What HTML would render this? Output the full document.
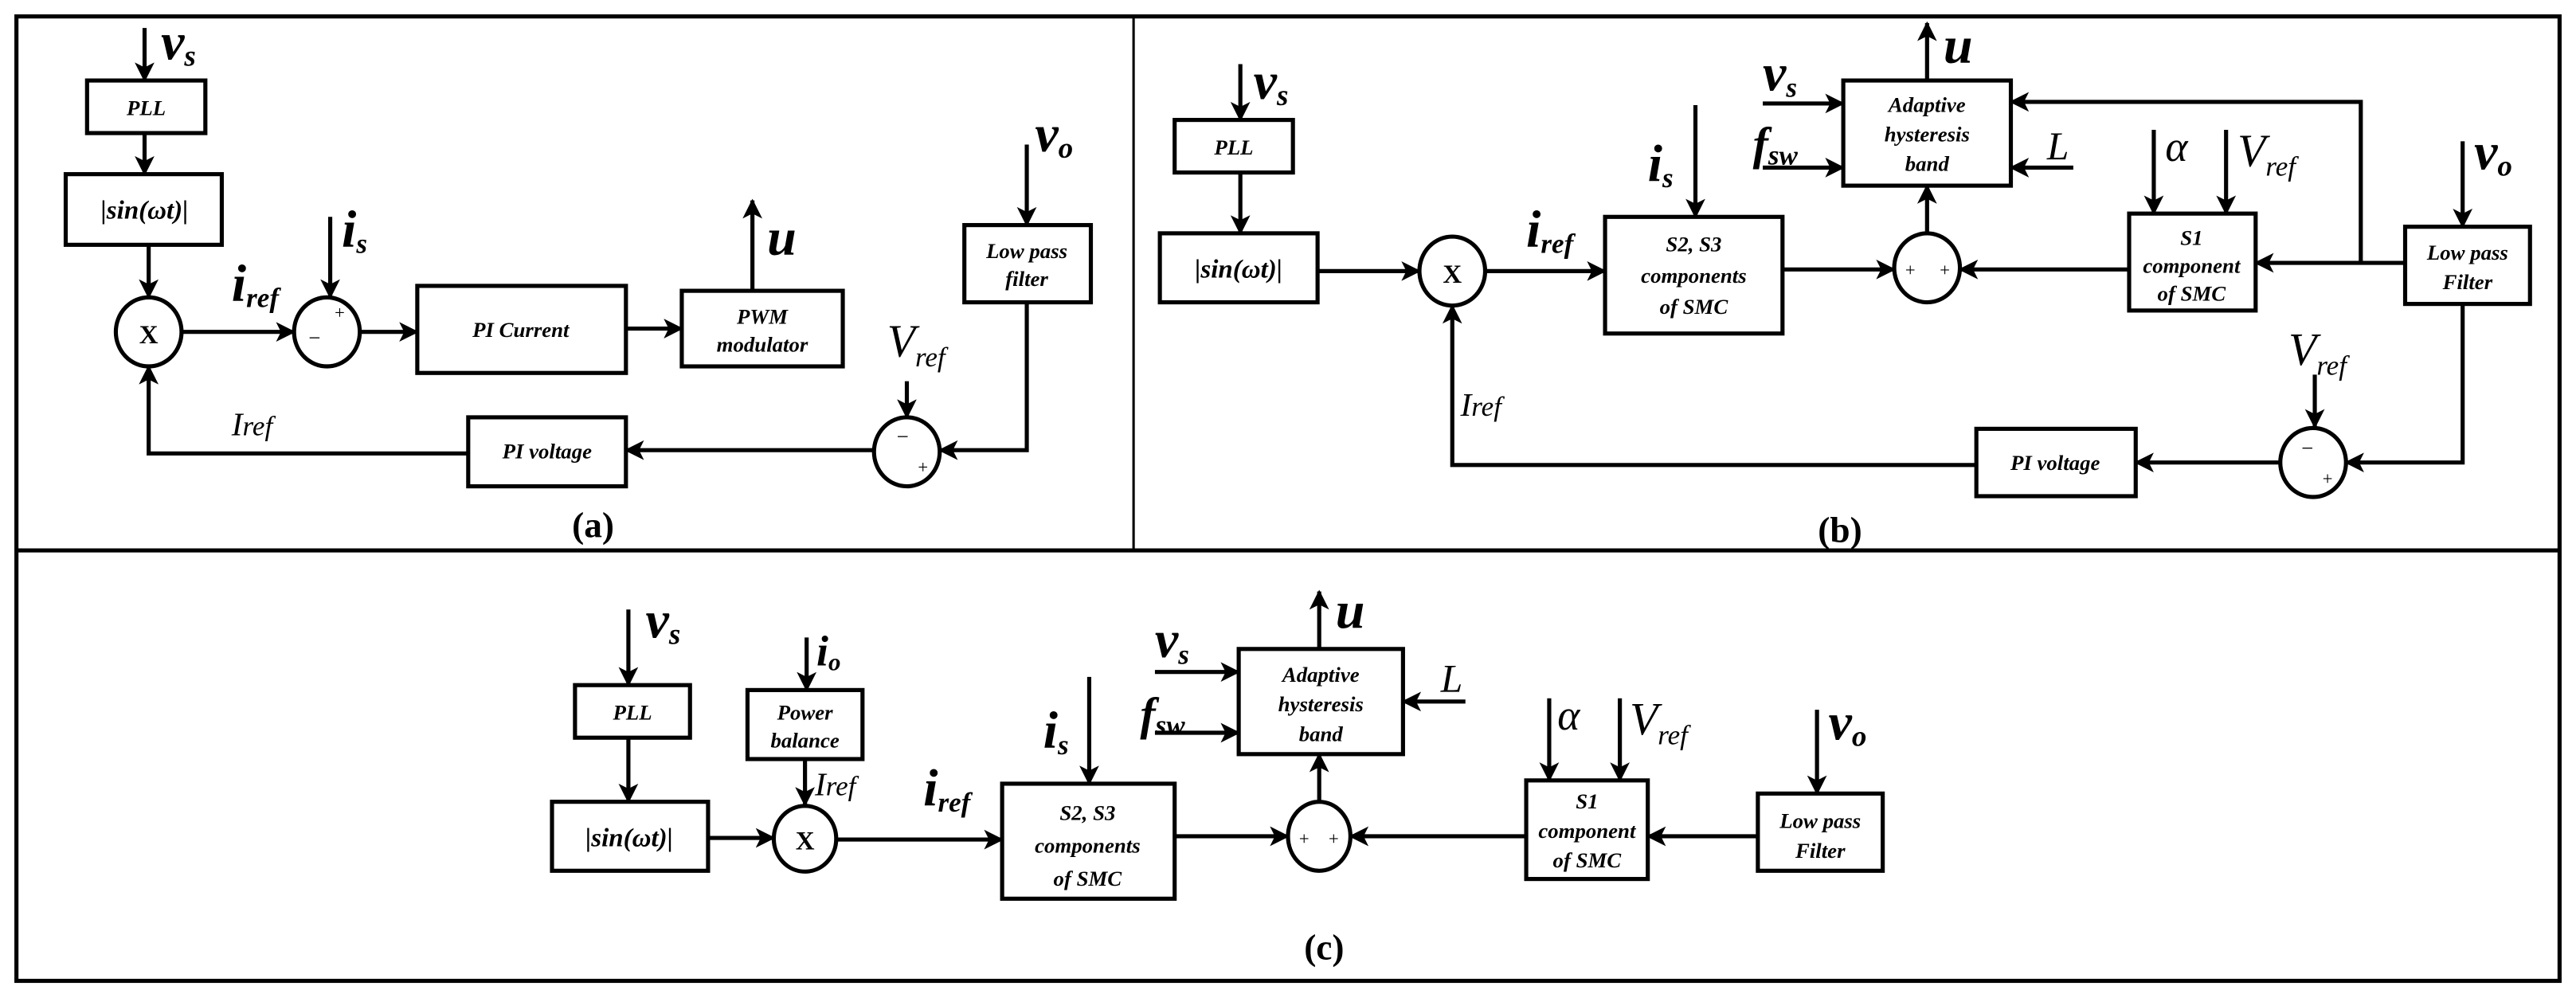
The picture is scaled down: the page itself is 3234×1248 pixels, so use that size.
<!DOCTYPE html>
<html><head><meta charset="utf-8"><style>
html,body{margin:0;padding:0;background:#fff}
svg{display:block}
text{font-family:"Liberation Serif",serif;font-style:italic;fill:#000}
.b{font-size:13px;font-weight:bold}
.m{font-size:32px;font-weight:bold}
.n{font-size:28px;font-weight:normal}
.s{font-size:16px;font-weight:bold}
.cap{font-size:22px;font-weight:bold;font-style:normal}
</style></head><body>
<svg width="3234" height="1248" viewBox="0 0 1568 605" preserveAspectRatio="none" xmlns="http://www.w3.org/2000/svg">
<defs>
<marker id="a" markerUnits="userSpaceOnUse" markerWidth="12" markerHeight="12" refX="11" refY="6" orient="auto"><path d="M0,0 L12,6 L0,12 L3,6 Z" fill="#000"/></marker>
</defs>
<g fill="none" stroke="#000" stroke-width="2">
<rect x="10" y="10" width="1548" height="587" stroke-width="2.5"/>
<line x1="10" y1="335" x2="1558" y2="335" stroke-width="2.5"/>
<line x1="690" y1="10" x2="690" y2="335" stroke-width="1.5"/>
</g>
<g fill="#fff" stroke="#000" stroke-width="2.5">
<rect x="53" y="49" width="72" height="32"/>
<rect x="40" y="106" width="95" height="43"/>
<ellipse cx="90.5" cy="202" rx="20" ry="21"/>
<ellipse cx="199" cy="202" rx="20" ry="21"/>
<rect x="254" y="174" width="127" height="53"/>
<rect x="415" y="177" width="98" height="46"/>
<rect x="587" y="137" width="77" height="47"/>
<ellipse cx="552" cy="275" rx="20" ry="21"/>
<rect x="285" y="254" width="96" height="42"/>
<rect x="715" y="73" width="72" height="32"/>
<rect x="706" y="142" width="96" height="42"/>
<ellipse cx="884" cy="165" rx="20" ry="21"/>
<rect x="977" y="132" width="108" height="71"/>
<ellipse cx="1173" cy="163" rx="20" ry="21"/>
<rect x="1122" y="49" width="102" height="64"/>
<rect x="1296" y="130" width="77" height="59"/>
<rect x="1464" y="138" width="76" height="47"/>
<ellipse cx="1408" cy="281.5" rx="20" ry="21"/>
<rect x="1203" y="261" width="97" height="41"/>
<rect x="350" y="417" width="70" height="32"/>
<rect x="336" y="488" width="95" height="42"/>
<ellipse cx="490" cy="510.5" rx="19" ry="20"/>
<rect x="455" y="420" width="70" height="42"/>
<rect x="610" y="477" width="105" height="70"/>
<ellipse cx="803" cy="509" rx="19" ry="21"/>
<rect x="754" y="395" width="100" height="64"/>
<rect x="929" y="475" width="74" height="60"/>
<rect x="1070" y="483" width="76" height="47"/>
</g>
<g fill="none" stroke="#000" stroke-width="2.5" marker-end="url(#a)">
<line x1="88" y1="17" x2="88" y2="49"/>
<line x1="88" y1="81" x2="88" y2="106"/>
<line x1="90.5" y1="149" x2="90.5" y2="181"/>
<line x1="110.5" y1="202" x2="179" y2="202"/>
<line x1="201" y1="132" x2="201" y2="181"/>
<line x1="219" y1="202" x2="254" y2="202"/>
<line x1="381" y1="200" x2="415" y2="200"/>
<line x1="458" y1="177" x2="458" y2="122"/>
<line x1="625" y1="88" x2="625" y2="137"/>
<polyline points="625,184 625,274 572,274"/>
<line x1="552" y1="232" x2="552" y2="254"/>
<line x1="532" y1="274" x2="381" y2="274"/>
<polyline points="285,276 90.5,276 90.5,223"/>
<line x1="755" y1="39" x2="755" y2="73"/>
<line x1="755" y1="105" x2="755" y2="142"/>
<line x1="802" y1="165" x2="864" y2="165"/>
<line x1="904" y1="165" x2="977" y2="165"/>
<line x1="1032" y1="64" x2="1032" y2="132"/>
<line x1="1085" y1="164" x2="1153" y2="164"/>
<line x1="1173" y1="142" x2="1173" y2="113"/>
<line x1="1173" y1="49" x2="1173" y2="14"/>
<line x1="1073" y1="63" x2="1122" y2="63"/>
<line x1="1073" y1="102" x2="1122" y2="102"/>
<line x1="1262" y1="102" x2="1224" y2="102"/>
<polyline points="1437,160 1437,62 1224,62"/>
<line x1="1311" y1="79" x2="1311" y2="130"/>
<line x1="1355" y1="79" x2="1355" y2="130"/>
<line x1="1464" y1="160" x2="1373" y2="160"/>
<line x1="1296" y1="164" x2="1193" y2="164"/>
<line x1="1499" y1="86" x2="1499" y2="138"/>
<polyline points="1499,185 1499,281.5 1428,281.5"/>
<line x1="1409" y1="228" x2="1409" y2="260"/>
<line x1="1388" y1="281.5" x2="1300" y2="281.5"/>
<polyline points="1203,283 884,283 884,186"/>
<line x1="382.5" y1="371" x2="382.5" y2="417"/>
<line x1="382.5" y1="449" x2="382.5" y2="488"/>
<line x1="431" y1="510" x2="471" y2="510"/>
<line x1="491" y1="388" x2="491" y2="420"/>
<line x1="490" y1="462" x2="490" y2="490"/>
<line x1="509" y1="511" x2="610" y2="511"/>
<line x1="663" y1="412" x2="663" y2="477"/>
<line x1="715" y1="509" x2="784" y2="509"/>
<line x1="803" y1="488" x2="803" y2="459"/>
<line x1="803" y1="395" x2="803" y2="360"/>
<line x1="703" y1="409" x2="754" y2="409"/>
<line x1="703" y1="446" x2="754" y2="446"/>
<line x1="892" y1="427" x2="854" y2="427"/>
<line x1="943" y1="425" x2="943" y2="475"/>
<line x1="986" y1="425" x2="986" y2="475"/>
<line x1="929" y1="509" x2="822" y2="509"/>
<line x1="1106" y1="432" x2="1106" y2="483"/>
<line x1="1070" y1="509" x2="1003" y2="509"/>
</g>
<g text-anchor="middle">
<text class="b" x="89" y="70">PLL</text>
<text class="s" x="88" y="133">|sin(ωt)|</text>
<text class="s" x="90.5" y="209" style="font-style:normal">X</text>
<text class="b" x="317" y="205">PI Current</text>
<text class="b" x="464" y="197">PWM</text>
<text class="b" x="464" y="214">modulator</text>
<text class="b" x="625" y="157">Low pass</text>
<text class="b" x="625" y="174">filter</text>
<text class="b" x="333" y="279">PI voltage</text>
<text class="cap" x="361" y="327">(a)</text>
<text class="b" x="751" y="94">PLL</text>
<text class="s" x="754" y="169">|sin(ωt)|</text>
<text class="s" x="884" y="172" style="font-style:normal">X</text>
<text class="b" x="1031" y="153">S2, S3</text>
<text class="b" x="1031" y="172">components</text>
<text class="b" x="1031" y="191">of SMC</text>
<text class="b" x="1173" y="68">Adaptive</text>
<text class="b" x="1173" y="86">hysteresis</text>
<text class="b" x="1173" y="104">band</text>
<text class="b" x="1334" y="149">S1</text>
<text class="b" x="1334" y="166">component</text>
<text class="b" x="1334" y="183">of SMC</text>
<text class="b" x="1502" y="158">Low pass</text>
<text class="b" x="1502" y="176">Filter</text>
<text class="b" x="1251" y="286">PI voltage</text>
<text class="cap" x="1120" y="330">(b)</text>
<text class="b" x="385" y="438">PLL</text>
<text class="s" x="383" y="515">|sin(ωt)|</text>
<text class="s" x="490" y="517" style="font-style:normal">X</text>
<text class="b" x="490" y="438">Power</text>
<text class="b" x="490" y="455">balance</text>
<text class="b" x="662" y="499">S2, S3</text>
<text class="b" x="662" y="519">components</text>
<text class="b" x="662" y="539">of SMC</text>
<text class="b" x="804" y="415">Adaptive</text>
<text class="b" x="804" y="433">hysteresis</text>
<text class="b" x="804" y="451">band</text>
<text class="b" x="966" y="492">S1</text>
<text class="b" x="966" y="510">component</text>
<text class="b" x="966" y="528">of SMC</text>
<text class="b" x="1108" y="504">Low pass</text>
<text class="b" x="1108" y="522">Filter</text>
<text class="cap" x="806" y="584">(c)</text>
</g>
<g>
<text class="m" x="98" y="36">v<tspan font-size="18" dy="4">s</tspan></text>
<text class="m" x="141" y="183">i<tspan font-size="17" dy="4">ref</tspan></text>
<text class="m" x="208" y="150">i<tspan font-size="17" dy="4">s</tspan></text>
<text class="m" x="467" y="155">u</text>
<text class="m" x="630" y="92">v<tspan font-size="18" dy="4">o</tspan></text>
<text class="n" x="540" y="217">V<tspan font-size="17" dy="6">ref</tspan></text>
<text class="n" x="141" y="265" style="font-size:20px">I<tspan font-size="17">ref</tspan></text>
<text font-size="11" x="203" y="194">+</text>
<text font-size="13" x="187" y="210">−</text>
<text font-size="13" x="545" y="270">−</text>
<text font-size="11" x="558" y="288">+</text>
<text class="m" x="763" y="60">v<tspan font-size="18" dy="4">s</tspan></text>
<text class="m" x="929" y="150">i<tspan font-size="17" dy="4">ref</tspan></text>
<text class="m" x="1003" y="110">i<tspan font-size="17" dy="4">s</tspan></text>
<text class="m" x="1183" y="38">u</text>
<text class="m" x="1073" y="55">v<tspan font-size="17" dy="4">s</tspan></text>
<text class="m" x="1067" y="97" style="font-size:28px">f<tspan font-size="17" dy="3">sw</tspan></text>
<text class="n" x="1246" y="97" style="font-size:24px">L</text>
<text class="n" x="1318" y="98" style="font-size:26px">α</text>
<text class="n" x="1362" y="101">V<tspan font-size="17" dy="6">ref</tspan></text>
<text class="m" x="1506" y="103">v<tspan font-size="18" dy="4">o</tspan></text>
<text class="n" x="1393" y="222">V<tspan font-size="17" dy="6">ref</tspan></text>
<text class="n" x="889" y="253" style="font-size:20px">I<tspan font-size="17">ref</tspan></text>
<text font-size="11" x="1159" y="168">+</text>
<text font-size="11" x="1180" y="168">+</text>
<text font-size="13" x="1400" y="277">−</text>
<text font-size="11" x="1413" y="295">+</text>
<text class="m" x="393" y="388">v<tspan font-size="18" dy="4">s</tspan></text>
<text class="m" x="497" y="405" style="font-size:26px">i<tspan font-size="15" dy="3">o</tspan></text>
<text class="n" x="496" y="484" style="font-size:20px">I<tspan font-size="17">ref</tspan></text>
<text class="m" x="562" y="490">i<tspan font-size="17" dy="4">ref</tspan></text>
<text class="m" x="635" y="455">i<tspan font-size="17" dy="4">s</tspan></text>
<text class="m" x="813" y="382">u</text>
<text class="m" x="703" y="400">v<tspan font-size="17" dy="4">s</tspan></text>
<text class="m" x="694" y="444" style="font-size:28px">f<tspan font-size="17" dy="3">sw</tspan></text>
<text class="n" x="877" y="421" style="font-size:24px">L</text>
<text class="n" x="948" y="444" style="font-size:26px">α</text>
<text class="n" x="992" y="447">V<tspan font-size="17" dy="6">ref</tspan></text>
<text class="m" x="1113" y="450">v<tspan font-size="18" dy="4">o</tspan></text>
<text font-size="11" x="790" y="514">+</text>
<text font-size="11" x="808" y="514">+</text>
</g>
</svg>
</body></html>
